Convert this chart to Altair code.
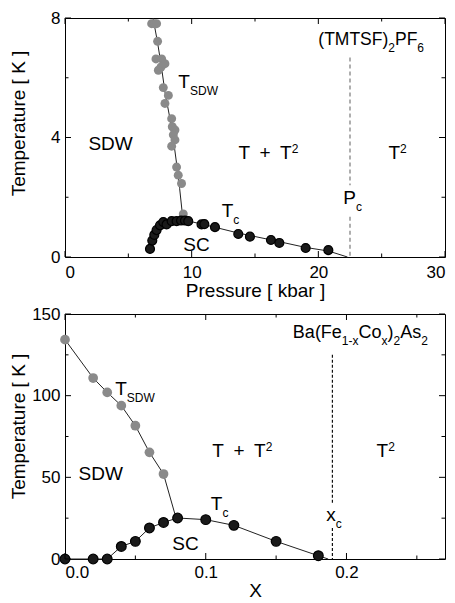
import altair as alt
import pandas as pd

FONT = "Liberation Sans"
W = 380
H_TOP = 239
H_BOT = 245

# ---------------- top panel: (TMTSF)2PF6 ----------------
top_sdw_p = [6.84, 7.05, 7.23, 7.31, 7.18, 7.63, 7.89, 7.58, 7.37, 7.76, 8.16, 7.89,
             8.42, 8.47, 8.68, 8.55, 8.68, 8.42, 8.81, 8.94, 9.20, 9.34]
top_sdw_t = [7.81, 7.81, 7.81, 7.22, 6.63, 6.63, 6.47, 6.36, 6.25, 5.67, 5.41, 5.14,
             4.63, 4.36, 4.25, 4.09, 3.92, 3.71, 3.01, 2.74, 2.46, 1.44]
top_sdw_line_p = [6.95, 7.30, 7.60, 7.90, 8.30, 8.60, 8.85, 9.05, 9.25, 9.35]
top_sdw_line_t = [8.00, 7.20, 6.40, 5.50, 4.60, 3.80, 3.00, 2.30, 1.50, 1.22]

top_tc_p = [6.71, 6.89, 7.05, 7.23, 7.50, 7.76, 8.02, 8.42, 8.81, 9.16, 9.47, 9.73,
            10.78, 11.00, 11.84, 13.68, 14.60, 16.26, 16.92, 19.00, 20.79]
top_tc_t = [0.27, 0.55, 0.74, 0.90, 1.06, 1.17, 1.09, 1.20, 1.20, 1.22, 1.22, 1.20,
            1.09, 1.10, 1.00, 0.77, 0.68, 0.57, 0.47, 0.30, 0.23]
top_tc_line_p = [6.71, 6.90, 7.20, 7.60, 8.20, 9.00, 9.80, 10.80, 11.80, 13.70,
                 16.30, 19.00, 20.80, 22.30]
top_tc_line_t = [0.27, 0.60, 0.90, 1.08, 1.17, 1.22, 1.20, 1.10, 1.00, 0.80,
                 0.57, 0.32, 0.20, 0.00]

top_pc = 22.5
top_pc_seg_from = [6.68, 1.35]
top_pc_seg_to = [2.40, 0.00]

top_x_major = [0, 10, 20, 30]
top_x_minor = [5, 15, 25]
top_y_major = [0, 4, 8]
top_y_minor = [2, 6]

# labels: (x, y, font size, [(text, kind)])
top_labels = [
    (1.85, 3.57, 19, [("SDW", "n")]),
    (8.95, 5.67, 19, [("T", "n"), ("SDW", "sub")]),
    (13.69, 3.27, 19, [("T\u2002+\u2002T", "n"), ("2", "sup")]),
    (25.53, 3.27, 19, [("T", "n"), ("2", "sup")]),
    (12.37, 1.35, 19, [("T", "n"), ("c", "sub")]),
    (9.34, 0.19, 19, [("SC", "n")]),
    (21.97, 1.76, 19, [("P", "n"), ("c", "sub")]),
    (20.0, 7.08, 17.5, [("(TMTSF)", "n"), ("2", "sub"), ("PF", "n"), ("6", "sub")]),
]

# ---------------- bottom panel: Ba(Fe1-xCox)2As2 ----------------
bot_sdw_x = [0.0, 0.02, 0.03, 0.04, 0.05, 0.06, 0.07]
bot_sdw_t = [134.3, 110.8, 102.0, 93.9, 81.6, 65.3, 52.0]
bot_sdw_line_x = [0.0, 0.02, 0.03, 0.04, 0.05, 0.06, 0.07, 0.0786]
bot_sdw_line_t = [134.3, 110.8, 102.0, 93.9, 81.6, 65.3, 52.0, 26.0]

bot_tc_x = [0.0, 0.02, 0.03, 0.04, 0.05, 0.06, 0.07, 0.08, 0.10, 0.12, 0.15, 0.18]
bot_tc_t = [0.0, 0.0, 0.0, 7.7, 10.8, 19.0, 22.4, 25.1, 24.1, 20.6, 10.8, 2.0]
bot_tc_line_x = bot_tc_x + [0.187]
bot_tc_line_t = bot_tc_t + [0.0]

bot_xc = 0.19
bot_xc_seg_from = [125.0, 19.0]
bot_xc_seg_to = [34.0, 0.0]

bot_x_major = [0.0, 0.1, 0.2]
bot_x_minor = [0.05, 0.15, 0.25]
bot_y_major = [0, 50, 100, 150]
bot_y_minor = [25, 75, 125]

bot_labels = [
    (0.0096, 48.6, 19, [("SDW", "n")]),
    (0.0357, 100.6, 19, [("T", "n"), ("SDW", "sub")]),
    (0.1047, 62.2, 19, [("T\u2002+\u2002T", "n"), ("2", "sup")]),
    (0.2214, 62.2, 19, [("T", "n"), ("2", "sup")]),
    (0.1036, 30.2, 19, [("T", "n"), ("c", "sub")]),
    (0.0762, 5.7, 19, [("SC", "n")]),
    (0.1857, 23.4, 19, [("x", "n"), ("c", "sub")]),
    (0.1619, 135.3, 18, [("Ba(Fe", "n"), ("1-x", "sub"), ("Co", "n"), ("x", "sub"),
                         (")", "n"), ("2", "sub"), ("As", "n"), ("2", "sub")]),
]

# ---------------- helpers ----------------
AW = {'(': 333, ')': 333, 'T': 611, 'M': 833, 'S': 667, 'F': 611, 'P': 667, 'B': 667,
      'a': 556, 'e': 556, 'C': 722, 'o': 556, 'A': 667, 's': 500, '1': 556, '-': 333,
      'x': 500, '2': 556, '6': 556, 'D': 722, 'W': 944, 'c': 500, ' ': 278, '+': 584,
      '\u2002': 500}
SMALL_SIZE = 12
SHIFT = {"n": 0, "sub": 7, "sup": -6}


def text_width(s, size):
    return sum(AW.get(ch, 556) for ch in s) / 1000.0 * size


def panel(xs, ts, lxs, lts, txs, tts, lx2, lt2, crit, seg_from, seg_to,
          xmaj, xmin, ymaj, ymin, labels, xdom, ydom, h, xtitle, xfmt,
          dash_color, dash, msize, xlabpad, title_y):
    xscale = alt.Scale(domain=xdom, nice=False, zero=False)
    yscale = alt.Scale(domain=ydom, nice=False, zero=False)
    common = dict(grid=False, ticks=False, domain=False, labelFont=FONT, titleFont=FONT,
                  labelFontSize=17, titleFontSize=19, titleFontWeight="normal",
                  labelColor="black", titleColor="black")
    xaxis = alt.Axis(title=xtitle, values=xmaj, format=xfmt, labelPadding=xlabpad,
                     titlePadding=1, **common)
    yaxis = alt.Axis(title="Temperature [ K ]", values=ymaj, labelPadding=5,
                     titleX=-37, titleY=title_y, **common)

    def X(f):
        return alt.X(f"{f}:Q", scale=xscale, axis=xaxis)

    def Y(f):
        return alt.Y(f"{f}:Q", scale=yscale, axis=yaxis)

    sdw_line = alt.Chart(pd.DataFrame({"x": lxs, "t": lts, "o": list(range(len(lxs)))})) \
        .mark_line(color="#222", strokeWidth=1) \
        .encode(x=X("x"), y=Y("t"), order="o:Q")
    tc_line = alt.Chart(pd.DataFrame({"x": lx2, "t": lt2, "o": list(range(len(lx2)))})) \
        .mark_line(color="#222", strokeWidth=1) \
        .encode(x=X("x"), y=Y("t"), order="o:Q")
    dashed = alt.Chart(pd.DataFrame({"x": [crit] * len(seg_from), "t": seg_from, "b": seg_to})) \
        .mark_rule(color=dash_color, strokeWidth=1.2, strokeDash=dash) \
        .encode(x=X("x"), y=Y("t"), y2="b:Q")
    sdw_pts = alt.Chart(pd.DataFrame({"x": xs, "t": ts})) \
        .mark_circle(size=msize, color="#8a8a8a", opacity=1) \
        .encode(x=X("x"), y=Y("t"))
    tc_pts = alt.Chart(pd.DataFrame({"x": txs, "t": tts})) \
        .mark_point(size=msize, filled=True, fill="#1a1a1a", stroke="black",
                    strokeWidth=1.2, opacity=1, shape="circle") \
        .encode(x=X("x"), y=Y("t"))

    layers = [sdw_line, tc_line, dashed, sdw_pts, tc_pts]

    # inward ticks on all four sides
    for vals, ln in ((xmaj, 6), (xmin, 3.5)):
        b = alt.Chart(pd.DataFrame({"x": vals})).mark_rule(color="black", strokeWidth=1)
        layers.append(b.encode(x=X("x"), y=alt.value(h), y2=alt.value(h - ln)))
        layers.append(b.encode(x=X("x"), y=alt.value(0), y2=alt.value(ln)))
    for vals, ln in ((ymaj, 6), (ymin, 3.5)):
        b = alt.Chart(pd.DataFrame({"t": vals})).mark_rule(color="black", strokeWidth=1)
        layers.append(b.encode(y=Y("t"), x=alt.value(0), x2=alt.value(ln)))
        layers.append(b.encode(y=Y("t"), x=alt.value(W), x2=alt.value(W - ln)))

    # text annotations with sub/superscripts
    for (lx, ly, size_main, segs) in labels:
        df = pd.DataFrame({"x": [lx], "t": [ly]})
        off = 0.0
        for (txt, kind) in segs:
            size = size_main if kind == "n" else SMALL_SIZE
            layers.append(
                alt.Chart(df).mark_text(text=txt, align="left", baseline="alphabetic",
                                        dx=off, dy=SHIFT[kind], font=FONT,
                                        fontSize=size, color="black")
                .encode(x=X("x"), y=Y("t"))
            )
            off += text_width(txt, size)

    return alt.layer(*layers).properties(width=W, height=h)


top = panel(top_sdw_p, top_sdw_t, top_sdw_line_p, top_sdw_line_t,
            top_tc_p, top_tc_t, top_tc_line_p, top_tc_line_t,
            top_pc, top_pc_seg_from, top_pc_seg_to,
            top_x_major, top_x_minor, top_y_major, top_y_minor, top_labels,
            [0, 30], [0, 8], H_TOP, "Pressure [ kbar ]", "d",
            "#7a7a7a", [4, 3], 80, 7, 105)

bot = panel(bot_sdw_x, bot_sdw_t, bot_sdw_line_x, bot_sdw_line_t,
            bot_tc_x, bot_tc_t, bot_tc_line_x, bot_tc_line_t,
            bot_xc, bot_xc_seg_from, bot_xc_seg_to,
            bot_x_major, bot_x_minor, bot_y_major, bot_y_minor, bot_labels,
            [0, 0.27], [0, 150], H_BOT, "X", ".1f",
            "#111", [3, 2], 95, 5, 112)

chart = alt.vconcat(top, bot, spacing=3).properties(
    padding={"top": 0, "left": 0, "right": 0, "bottom": 0},
    background="white"
).configure_view(stroke="black", strokeWidth=1)

chart.save("out.html", embed_options={"renderer": "svg", "actions": False})
